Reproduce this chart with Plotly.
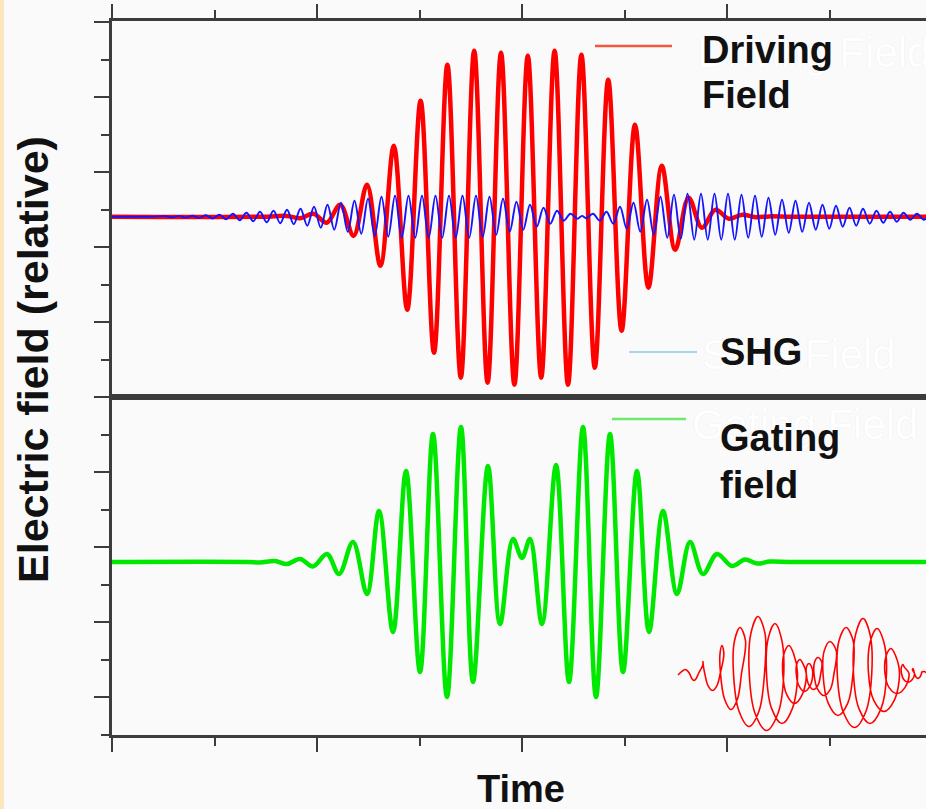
import plotly.graph_objects as go

# ---------------- data (time in arbitrary units, field in relative units) ----------------
red_t = [0, 150, 174.6, 188.0, 201.4, 214.8, 228.2, 241.6, 255.0, 268.4, 281.8, 295.2, 308.6,
         322.0, 335.4, 348.8, 362.2, 375.6, 389.0, 402.4, 415.8, 429.2, 442.6, 456.0, 469.4,
         482.8, 496.2, 509.6, 523.0, 536.4, 549.8, 563.2, 576.6, 590.0, 603.4, 616.8, 630.2,
         643.6, 657.0, 680, 814]
red_e = [0, 0, 0.8, -1.5, 3, -6, 12, -19, 32, -49, 71, -93, 116, -136, 152, -161, 166, -166,
         164, -168, 161, -161, 166, -168, 162, -151, 137, -114, 92, -71, 51, -33, 19, -11, 7,
         -2, 2, -0.5, 0.3, 0, 0]

blue_t = [0, 40, 53.5, 60.25, 67, 73.75, 80.5, 87.25, 94, 100.75, 107.5, 114.25, 121, 127.75,
          134.5, 141.25, 148, 154.75, 161.5, 168.25, 175, 181.75, 188.5, 195.25, 202, 208.75,
          215.5, 222.25, 229, 235.75, 242.5, 249.25, 256, 262.75, 269.5, 276.25, 283, 289.75,
          296.5, 303.25, 310, 316.75, 323.5, 330.25, 337, 343.75, 350.5, 357.25, 364, 370.75,
          377.5, 384.25, 391, 397.75, 404.5, 411.25, 418, 424.75, 431.5, 438.25, 445, 451.75,
          458.5, 465.25, 470, 474.25, 481, 487.75, 494.5, 501.25, 508, 514.75, 521.5, 528.25,
          535, 541.75, 548.5, 555.25, 562, 568.75, 575.5, 582.25, 589, 595.75, 602.5, 609.25,
          616, 622.75, 629.5, 636.25, 643, 649.75, 656.5, 663.25, 670, 676.75, 683.5, 690.25,
          697, 703.75, 710.5, 717.25, 724, 730.75, 737.5, 744.25, 751, 757.75, 764.5, 771.25,
          778, 784.75, 791.5, 798.25, 805, 811.75, 818.5]
blue_e = [0, 0,
          0.5, -0.6, 0.8, -0.9, 1.0, -1.2, 1.5, -1.8, 2.0, -2.5, 3, -3.5, 4, -4.5, 5, -5.5,
          6, -6.5, 7, -7.5, 8, -9, 10, -11, 12, -13, 14, -15, 16, -17, 18, -19, 20, -20,
          21, -21, 21, -21, 21, -21, 21, -21, 21, -21, 21, -21, 21, -20, 20, -18, 18, -15,
          15, -13, 12, -10, 9, -7, 6, -4, 3,
          -2, 0.8, -1.5,
          3, -4, 5, -7, 10, -12, 14, -15, 17, -18, 20, -21, 22, -22, 23, -23, 23, -23, 23,
          -23, 23, -23, 22, -21, 21, -20, 19, -18, 17, -16, 16, -15, 14, -13, 12, -12, 11,
          -10, 9, -9, 8, -7, 6, -6, 5, -5, 4, -3, 3, -3, 2]

green_t = [0, 135, 148, 163, 175, 188, 201, 215, 227, 241, 255, 267, 281, 294, 308, 321, 335,
           349, 361, 376, 388, 401, 410, 418, 430, 444, 457, 471, 484, 498, 511, 525, 537, 551,
           565, 578, 591, 605, 620, 633, 645, 658, 680, 814]
green_e = [0, 0, -0.5, 1, -2, 3, -4.5, 8, -12, 20, -32, 51, -70, 91, -110, 128, -135, 135,
           -120, 96, -62, 23, 4, 23, -62, 97, -120, 135, -135, 128, -110, 91, -70, 51, -32, 20,
           -12, 8, -4, 2.5, -1.5, 0.5, 0, 0]

# inset (red coil sketch): one entry per turn
loop_top_t = [573, 591, 610, 628, 646, 663, 677, 688, 697, 706, 718, 734, 751, 765, 779, 791, 801]
loop_up = [4, 12, 28, 46, 57, 50, 28, 14, 10, 16, 32, 46, 55, 45, 25, 9, 5]
loop_down = [7, 17, 36, 53, 57, 50, 30, 18, 16, 22, 42, 54, 50, 38, 20, 9, 5]
loop_halfwidth = [0, 3, 6, 11, 13, 12, 9, 6, 5, 7, 11, 13, 13, 12, 9, 4, 1]
inset_base = -111.5
inset_start = (566, -113)
inset_end_t = [812, 814]
inset_end_e = [-109.5, -110.5]

assert len(red_t) == len(red_e)
assert len(blue_t) == len(blue_e), (len(blue_t), len(blue_e))
assert len(green_t) == len(green_e)

# key points of the coil path (top, side, bottom, side of every turn), smoothed by plotly's spline
inset_t, inset_e = [inset_start[0]], [inset_start[1]]
n = len(loop_top_t)
for i in range(n):
    T, A, B, Wd = loop_top_t[i], loop_up[i], loop_down[i], loop_halfwidth[i]
    d = (loop_top_t[i + 1] - T) if i + 1 < n else 10
    An = loop_up[i + 1] if i + 1 < n else 2
    Wn = loop_halfwidth[i + 1] if i + 1 < n else 0
    c = 0.7071
    inset_t += [T, T + d / 8 - c * Wd, T + d / 4 - Wd, T + 3 * d / 8 - c * Wd, T + d / 2,
                T + 5 * d / 8 + c * Wd, T + 3 * d / 4 + Wd, T + 7 * d / 8 + c * Wn]
    inset_e += [inset_base + A, inset_base + c * A, inset_base, inset_base - c * B,
                inset_base - B, inset_base - c * B, inset_base, inset_base + c * An]
inset_t += inset_end_t
inset_e += inset_end_e

# ---------------- layout helpers ----------------
W, H = 926, 809
def px(x):
    return x / W
def py(y):
    return 1 - y / H

FONT = "Liberation Sans, Arial, sans-serif"
AX = "#3c3c3c"
BG = "#fafafa"

fig = go.Figure()
fig.add_trace(go.Scatter(x=red_t, y=red_e, mode="lines", xaxis="x", yaxis="y",
                         line=dict(color="#ff0000", width=4.5, shape="spline", smoothing=1),
                         hoverinfo="skip"))
fig.add_trace(go.Scatter(x=blue_t, y=blue_e, mode="lines", xaxis="x", yaxis="y",
                         line=dict(color="#1414ff", width=1.9, shape="spline", smoothing=1),
                         hoverinfo="skip"))
fig.add_trace(go.Scatter(x=green_t, y=green_e, mode="lines", xaxis="x2", yaxis="y2",
                         line=dict(color="#00e800", width=4.5, shape="spline", smoothing=1),
                         hoverinfo="skip"))
fig.add_trace(go.Scatter(x=inset_t, y=inset_e, mode="lines", xaxis="x2", yaxis="y2",
                         line=dict(color="#ff0000", width=1.6, shape="spline", smoothing=1,
                                   simplify=False),
                         hoverinfo="skip"))

xcommon = dict(range=[0, 814], domain=[px(112), 1], showline=True, linecolor=AX, linewidth=2.5,
               mirror=True, ticks="outside", ticklen=14, tickwidth=2, tickcolor=AX,
               tick0=0, dtick=205, showticklabels=False, showgrid=False, zeroline=False,
               minor=dict(ticks="outside", ticklen=8, tickwidth=2, tickcolor=AX,
                          tick0=0, dtick=102.5, showgrid=False),
               fixedrange=True)
ycommon = dict(showline=True, linecolor=AX, linewidth=2.5, mirror=False, ticks="outside",
               ticklen=15, tickwidth=2, tickcolor=AX, dtick=75, showticklabels=False,
               showgrid=False, zeroline=False, fixedrange=True)

fig.update_layout(
    width=W, height=H, margin=dict(l=0, r=0, t=0, b=0),
    paper_bgcolor=BG, plot_bgcolor=BG, showlegend=False,
    xaxis=dict(xcommon, anchor="y", side="top"),
    xaxis2=dict(xcommon, anchor="y2", side="bottom"),
    yaxis=dict(ycommon, domain=[py(397), py(21)], range=[-180.3, 195.7], tick0=44.7,
               anchor="x", minor=dict(ticks="outside", ticklen=8, tickwidth=2, tickcolor=AX,
                                      tick0=44.7, dtick=37.5, showgrid=False)),
    yaxis2=dict(ycommon, domain=[py(735), py(397)], range=[-173, 165], tick0=15,
                anchor="x2", minor=dict(ticks="outside", ticklen=8, tickwidth=2, tickcolor=AX,
                                        tick0=15, dtick=37.5, showgrid=False)),
)

shapes = [
    dict(type="rect", xref="paper", yref="paper", x0=0, x1=px(4), y0=0, y1=1,
         fillcolor="#fde6bf", line=dict(width=0), layer="above"),
    dict(type="line", xref="paper", yref="paper", x0=px(595), x1=px(672), y0=py(46), y1=py(46),
         line=dict(color="#f4583c", width=2.5)),
    dict(type="line", xref="paper", yref="paper", x0=px(629), x1=px(697), y0=py(352), y1=py(352),
         line=dict(color="#a8d6e8", width=2.2)),
    dict(type="line", xref="paper", yref="paper", x0=px(612), x1=px(686), y0=py(419), y1=py(419),
         line=dict(color="#6ee86e", width=2.5)),
]
fig.update_layout(shapes=shapes)

ann = []
# faint white ghost labels behind the legend
for txt, x, y in [("Driving Field", 695, 52), ("SHG Field", 700, 355), ("Gating Field", 690, 424)]:
    ann.append(dict(text=txt, x=px(x), y=py(y), xref="paper", yref="paper", xanchor="left",
                    yanchor="middle", showarrow=False,
                    font=dict(family=FONT, size=42, color="#ffffff",
                              shadow="0px 0px 1px #e2e2e2")))
for txt, x, y in [("Driving", 700, 49.5), ("Field", 700, 95), ("SHG", 718, 352),
                  ("Gating", 718, 438), ("field", 718, 485)]:
    ann.append(dict(text="<b>%s</b>" % txt, x=px(x), y=py(y), xref="paper", yref="paper",
                    xanchor="left", yanchor="middle", showarrow=False,
                    font=dict(family=FONT, size=38, color="#111111")))
ann.append(dict(text="<b>Time</b>", x=px(521), y=py(789), xref="paper", yref="paper",
                xanchor="center", yanchor="middle", showarrow=False,
                font=dict(family=FONT, size=38, color="#111111")))
ann.append(dict(text="<b>Electric field (relative)</b>", x=px(33), y=py(360), xref="paper",
                yref="paper", xanchor="center", yanchor="middle", textangle=-90,
                showarrow=False, font=dict(family=FONT, size=43, color="#111111")))
fig.update_layout(annotations=ann)

fig.write_html("out.html")
